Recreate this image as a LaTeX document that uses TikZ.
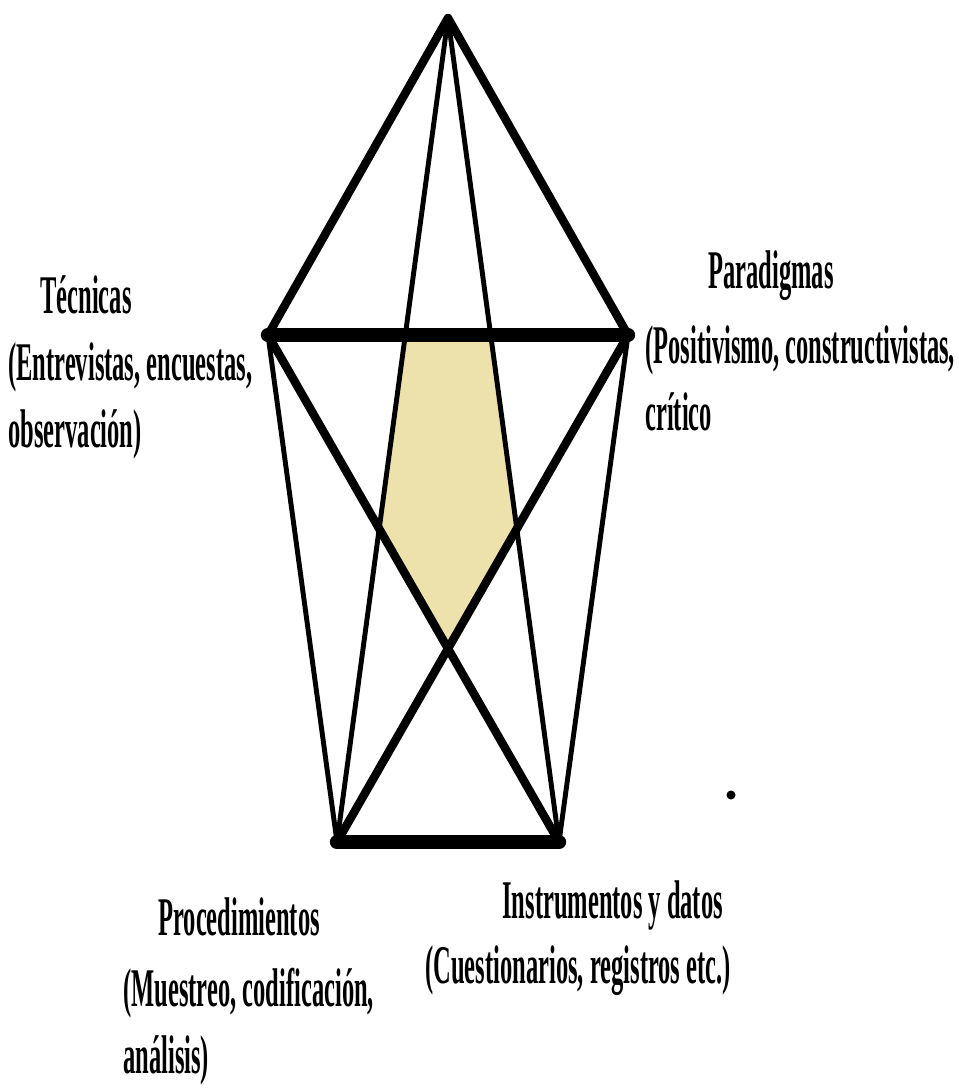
\documentclass[tikz,border=0pt]{standalone}
\usepackage{fontspec}
\setmainfont[FakeStretch=0.45]{Liberation Serif}
\definecolor{pentfill}{RGB}{237,226,172}

\begin{document}
\begin{tikzpicture}[x=0.02cm, y=-0.02cm,
  heavy/.style={line width=4.8pt, line cap=round, line join=round},
  bar/.style={line width=8.2pt, line cap=round},
  thinline/.style={line width=2.8pt, line cap=round},
  lbl/.style={anchor=base west, inner sep=0pt, align=left,
    font=\fontsize{31}{38}\selectfont\bfseries}]
\useasboundingbox (0,0) rectangle (959,1088);
% vertices of the star
\coordinate (apex) at (448,18);
\coordinate (tec) at (268,335);
\coordinate (par) at (628,335);
\coordinate (proc) at (337,842);
\coordinate (inst) at (559,842);
% shaded centre
\fill[pentfill] (intersection of apex--proc and tec--par)
  -- (intersection of apex--inst and tec--par)
  -- (intersection of apex--inst and par--proc)
  -- (intersection of tec--inst and par--proc)
  -- (intersection of apex--proc and tec--inst) -- cycle;
% thin lines
\draw[thinline] (apex) -- (proc);
\draw[thinline] (apex) -- (inst);
\draw[thinline] (tec) -- (proc);
\draw[thinline] (par) -- (inst);
% heavy lines
\draw[heavy] (tec) -- (apex) -- (par);
\draw[heavy] (tec) -- (inst);
\draw[heavy] (par) -- (proc);
\draw[bar] (tec) -- (par);
\draw[bar] (proc) -- (inst);
\fill (731,795) circle (4.5);
% labels (base = last line)
\node[lbl] (tecH) at (40,313) {Técnicas};
\node[lbl] (tecD) at (8,447) {(Entrevistas, encuestas,\\observación)};
\node[lbl] (parH) at (708,288) {Paradigmas};
\node[lbl] (parD) at (645,430) {(Positivismo, constructivistas,\\crítico};
\node[lbl] (procH) at (158,935) {Procedimientos};
\node[lbl] (procD) at (123,1073) {(Muestreo, codificación,\\análisis)};
\node[lbl] (instH) at (502,918) {Instrumentos y datos};
\node[lbl] (instD) at (425,983) {(Cuestionarios, registros etc.)};
\end{tikzpicture}
\end{document}
